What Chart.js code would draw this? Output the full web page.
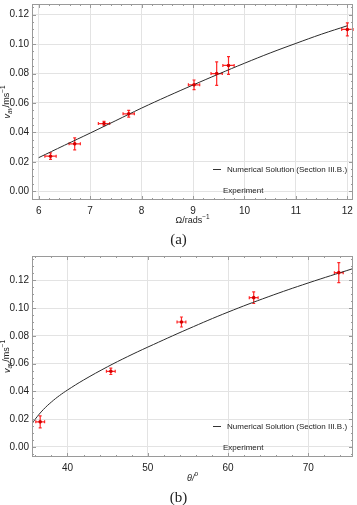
<!DOCTYPE html>
<html lang="en">
<head>
  <meta charset="UTF-8" />
  <title>Average speed vs rotation rate and angle</title>
  <script src="https://cdn.jsdelivr.net/npm/chart.js"></script>
  <style>
    body {
      margin: 0;
      background: #fff;
      width: 357px;
      height: 505px;
      position: relative;
      overflow: hidden;
    }
    .plot {
      position: absolute;
      left: 0;
    }
    .caption {
      position: absolute;
      left: 0;
      width: 357px;
      text-align: center;
      font-family: "Liberation Serif", "DejaVu Serif", serif;
      font-size: 15px;
      color: #222;
    }
  </style>
</head>
<body>
  <div class="plot" style="top:0; width:357px; height:232px;"><canvas id="chartA"></canvas></div>
  <div class="caption" style="top:231px;">(a)</div>
  <div class="plot" style="top:250px; width:357px; height:239px;"><canvas id="chartB"></canvas></div>
  <div class="caption" style="top:489px;">(b)</div>

  <script>
    // (a) speed against rotation rate
    const omega      = [6.23, 6.70, 7.27, 7.75, 9.02, 9.46, 9.69, 12.0];
    const omegaErr   = [0.11, 0.11, 0.11, 0.11, 0.11, 0.11, 0.11, 0.11];
    const speedA     = [0.0238, 0.0322, 0.0460, 0.0526, 0.0723, 0.0800, 0.0855, 0.1100];
    const speedAErr  = [0.0022, 0.0041, 0.0015, 0.0023, 0.0033, 0.0080, 0.0060, 0.0044];
    const curveOmega = [6.0, 6.5, 7.0, 7.5, 8.0, 8.5, 9.0, 9.5, 10.0, 10.5, 11.0, 11.5, 12.0];
    const curveA     = [0.0228, 0.0312, 0.0395, 0.0480, 0.0565, 0.0645, 0.0722, 0.0797, 0.0870, 0.0940, 0.1005, 0.1068, 0.1125];
    const omegaTicks = [6, 7, 8, 9, 10, 11, 12];

    // (b) speed against angle
    const theta      = [36.6, 45.4, 54.2, 63.2, 73.8];
    const thetaErr   = [0.55, 0.55, 0.55, 0.55, 0.55];
    const speedB     = [0.0181, 0.0545, 0.0900, 0.1075, 0.1255];
    const speedBErr  = [0.0043, 0.0023, 0.0036, 0.0042, 0.0072];
    const curveTheta = [35.6, 36.0, 37.0, 38.0, 39.0, 40.0, 42.0, 45.0, 47.5, 50.0, 55.0, 60.0, 65.0, 70.0, 75.5];
    const curveB     = [0.0168, 0.0202, 0.0270, 0.0324, 0.0370, 0.0410, 0.0482, 0.0578, 0.0651, 0.0719, 0.0849, 0.0971, 0.1081, 0.1181, 0.1283];
    const thetaTicks = [40, 50, 60, 70];

    const speedTicks = [0, 0.02, 0.04, 0.06, 0.08, 0.10, 0.12];

    const legendLine = 'Numerical Solution (Section III.B.)';
    const legendExp  = 'Experiment';

    const sans = '"Liberation Sans", Arial, sans-serif';
    const frameColor = '#9a9a9a';
    const gridColor = '#e3e3e3';

    // draws a list of text pieces with sub/superscripts, centred on (x, y)
    function richText(ctx, parts, x, y, size, rotate) {
      const font = p => (p.i ? 'italic ' : '') + (p.pos ? size * 0.72 : size) + 'px ' + sans;
      let total = 0;
      parts.forEach(p => { ctx.font = font(p); total += ctx.measureText(p.t).width; });
      ctx.save();
      ctx.translate(x, y);
      if (rotate) ctx.rotate(-Math.PI / 2);
      ctx.fillStyle = '#222';
      ctx.textBaseline = 'middle';
      ctx.textAlign = 'left';
      let cx = -total / 2;
      parts.forEach(p => {
        ctx.font = font(p);
        const dy = p.pos === 'sub' ? size * 0.3 : p.pos === 'sup' ? -size * 0.38 : 0;
        ctx.fillText(p.t, cx, dy);
        cx += ctx.measureText(p.t).width;
      });
      ctx.restore();
    }

    function framePlugin(cfg) {
      return {
        id: 'frame',
        beforeDatasetsDraw(chart) {
          const ctx = chart.ctx;
          const xs = chart.scales.x, ys = chart.scales.y;
          // error bars
          ctx.save();
          ctx.strokeStyle = 'rgba(255,0,0,0.85)';
          ctx.lineWidth = 1.2;
          cfg.xv.forEach((xv, i) => {
            const px = xs.getPixelForValue(xv), py = ys.getPixelForValue(cfg.yv[i]);
            const x1 = xs.getPixelForValue(xv - cfg.xe[i]), x2 = xs.getPixelForValue(xv + cfg.xe[i]);
            const y1 = ys.getPixelForValue(cfg.yv[i] - cfg.ye[i]), y2 = ys.getPixelForValue(cfg.yv[i] + cfg.ye[i]);
            ctx.beginPath();
            ctx.moveTo(x1, py); ctx.lineTo(x2, py);
            ctx.moveTo(x1, py - 1.5); ctx.lineTo(x1, py + 1.5);
            ctx.moveTo(x2, py - 1.5); ctx.lineTo(x2, py + 1.5);
            ctx.moveTo(px, y1); ctx.lineTo(px, y2);
            ctx.moveTo(px - 1.5, y1); ctx.lineTo(px + 1.5, y1);
            ctx.moveTo(px - 1.5, y2); ctx.lineTo(px + 1.5, y2);
            ctx.stroke();
          });
          ctx.restore();
        },
        afterDraw(chart) {
          const ctx = chart.ctx;
          const a = chart.chartArea;
          const xs = chart.scales.x, ys = chart.scales.y;
          ctx.save();
          ctx.strokeStyle = frameColor;
          ctx.lineWidth = 1;
          ctx.strokeRect(a.left + 0.5, a.top + 0.5, a.right - a.left - 1, a.bottom - a.top - 1);
          // inward frame ticks
          ctx.beginPath();
          const tick = (v, len, isX) => {
            const p = Math.round(isX ? xs.getPixelForValue(v) : ys.getPixelForValue(v)) + 0.5;
            if (isX) {
              if (p < a.left + 1 || p > a.right - 1) return;
              ctx.moveTo(p, a.bottom); ctx.lineTo(p, a.bottom - len);
              ctx.moveTo(p, a.top); ctx.lineTo(p, a.top + len);
            } else {
              if (p < a.top + 1 || p > a.bottom - 1) return;
              ctx.moveTo(a.left, p); ctx.lineTo(a.left + len, p);
              ctx.moveTo(a.right, p); ctx.lineTo(a.right - len, p);
            }
          };
          for (let v = Math.ceil(xs.min / cfg.xMinor) * cfg.xMinor; v <= xs.max; v += cfg.xMinor) {
            const major = Math.abs(v / cfg.xStep - Math.round(v / cfg.xStep)) < 1e-6;
            tick(v, major ? 4 : 2, true);
          }
          for (let v = Math.ceil(ys.min / cfg.yMinor) * cfg.yMinor; v <= ys.max; v += cfg.yMinor) {
            const major = Math.abs(v / 0.02 - Math.round(v / 0.02)) < 1e-6;
            tick(v, major ? 4 : 2, false);
          }
          ctx.stroke();

          // legend
          ctx.strokeStyle = '#333';
          ctx.beginPath();
          ctx.moveTo(a.right - 140, a.bottom - 30.5);
          ctx.lineTo(a.right - 132, a.bottom - 30.5);
          ctx.stroke();
          ctx.fillStyle = '#222';
          ctx.font = '8px ' + sans;
          ctx.textBaseline = 'middle';
          ctx.fillText(legendLine, a.right - 126, a.bottom - 30);
          ctx.fillText(legendExp, a.right - 130, a.bottom - 9.5);
          ctx.restore();

          // axis titles
          const cx = (a.left + a.right) / 2;
          richText(ctx, cfg.xTitle, cx, a.bottom + 21, 9, false);
          richText(ctx, cfg.yTitle, 7, (a.top + a.bottom) / 2, 9, true);
        }
      };
    }

    function makeChart(id, o) {
      new Chart(document.getElementById(id).getContext('2d'), {
        type: 'scatter',
        data: {
          datasets: [
            {
              label: legendExp,
              data: o.xv.map((v, i) => ({ x: v, y: o.yv[i] })),
              pointRadius: 1.8,
              pointBackgroundColor: '#d40000',
              pointBorderColor: '#d40000',
              pointBorderWidth: 0
            },
            {
              label: legendLine,
              data: o.cx.map((v, i) => ({ x: v, y: o.cy[i] })),
              showLine: true,
              pointRadius: 0,
              borderColor: '#2b2b2b',
              borderWidth: 1,
              tension: 0.4
            }
          ]
        },
        options: {
          responsive: true,
          maintainAspectRatio: false,
          animation: false,
          layout: { padding: { top: o.padTop, right: o.padRight, left: 0, bottom: 0 } },
          plugins: { legend: { display: false }, tooltip: { enabled: false } },
          scales: {
            x: {
              type: 'linear',
              min: o.xMin,
              max: o.xMax,
              border: { display: false },
              grid: { color: gridColor, drawTicks: false },
              ticks: {
                padding: 5,
                color: '#222',
                font: { family: sans, size: 10 },
                maxRotation: 0
              },
              afterBuildTicks(s) { s.ticks = o.xTicks.map(v => ({ value: v })); },
              afterFit(s) { s.height = 32; s.paddingLeft = 0; s.paddingRight = 0; }
            },
            y: {
              type: 'linear',
              min: o.yMin,
              max: o.yMax,
              border: { display: false },
              grid: { color: gridColor, drawTicks: false },
              ticks: {
                padding: 3,
                color: '#222',
                font: { family: sans, size: 10 },
                callback: v => v.toFixed(2)
              },
              afterBuildTicks(s) { s.ticks = speedTicks.map(v => ({ value: v })); },
              afterFit(s) { s.width = 32; s.paddingTop = 0; s.paddingBottom = 0; }
            }
          }
        },
        plugins: [framePlugin(o)]
      });
    }

    makeChart('chartA', {
      xv: omega, xe: omegaErr, yv: speedA, ye: speedAErr,
      cx: curveOmega, cy: curveA, xTicks: omegaTicks,
      xMin: 5.87, xMax: 12.11, xStep: 1, xMinor: 0.2,
      yMin: -0.006, yMax: 0.1273, yMinor: 0.005,
      padTop: 0, padRight: 1,
      xTitle: [{ t: 'Ω/rads' }, { t: '−1', pos: 'sup' }],
      yTitle: [{ t: 'v', i: true }, { t: 'av', i: true, pos: 'sub' }, { t: '/ms' }, { t: '−1', pos: 'sup' }]
    });

    makeChart('chartB', {
      xv: theta, xe: thetaErr, yv: speedB, ye: speedBErr,
      cx: curveTheta, cy: curveB, xTicks: thetaTicks,
      xMin: 35.58, xMax: 75.57, xStep: 10, xMinor: 2,
      yMin: -0.0072, yMax: 0.1375, yMinor: 0.005,
      padTop: 6, padRight: 2,
      xTitle: [{ t: 'θ/', i: true }, { t: 'o', i: true, pos: 'sup' }],
      yTitle: [{ t: 'v', i: true }, { t: 'av', i: true, pos: 'sub' }, { t: '/ms' }, { t: '−1', pos: 'sup' }]
    });
  </script>
</body>
</html>
